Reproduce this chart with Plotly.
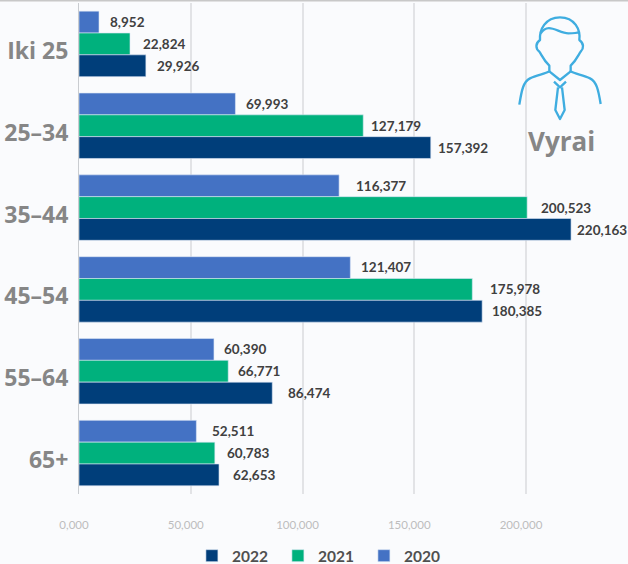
import base64
import plotly.graph_objects as go

categories = ["Iki 25", "25–34", "35–44", "45–54", "55–64", "65+"]
values_2020 = [8952, 69993, 116377, 121407, 60390, 52511]
values_2021 = [22824, 127179, 200523, 175978, 66771, 60783]
values_2022 = [29926, 157392, 220163, 180385, 86474, 62653]
x_ticks = [0, 50000, 100000, 150000, 200000]
x_tick_labels = ["0,000", "50,000", "100,000", "150,000", "200,000"]
gaps_2020 = [11, 11, 17, 11, 10, 16]
gaps_2021 = [13, 8, 14, 18, 10, 12]
gaps_2022 = [11, 7, 6, 10, 16, 14]

FONT = "Lato"
W, H = 628, 564
BG = "#fafbfd"
L, R, T, B = 79, 0, 3, 70

series = [
    ("2020", values_2020, "#4472c4", gaps_2020),
    ("2021", values_2021, "#00b17d", gaps_2021),
    ("2022", values_2022, "#003e7a", gaps_2022),
]

fig = go.Figure()
annos = []
for name, vals, col, gaps in series:
    fig.add_bar(y=categories, x=vals, name=name, orientation="h",
                marker=dict(color=col, line=dict(color="#dbe6f5", width=0.6)))
for k, (name, vals, col, gaps) in enumerate(series):
    for c, v, g in zip(categories, vals, gaps):
        annos.append(dict(x=v, y=c, xref="x", yref="y", text=f"<b>{v:,}</b>", showarrow=False,
                          xanchor="left", xshift=g - 2, yshift=-(k - 1) * 22,
                          font=dict(family=FONT, size=13.5, color="#404040")))
annos.append(dict(x=(561 - L) / (W - L - R), y=1 - (141 - T) / (H - T - B), xref="paper", yref="paper",
                  text="<b>Vyrai</b>", showarrow=False, xanchor="center", yanchor="middle",
                  font=dict(family="Open Sans", size=26, color="#868686")))

svg = ('<svg xmlns="http://www.w3.org/2000/svg" width="148" height="170" viewBox="0 0 444 510">'
       '<g fill="none" stroke="#3fade0" stroke-width="7" stroke-linejoin="round" stroke-linecap="butt">'
       '<path d="M118,314 C125,270 130,245 150,235 C170,225 195,222 208,214 L208,197 C190,180 185,165 178,155 '
       'C166,145 166,130 180,120 C178,90 195,52 240,52 C285,52 302,90 298,120 C312,130 312,145 302,155 '
       'C295,165 290,180 272,197 L272,214 C285,222 310,225 330,235 C350,245 355,270 362,312"/>'
       '<path d="M208,214 L240,240 L272,214"/>'
       '<path d="M182,100 C205,65 235,100 265,100 C280,100 290,100 298,96"/>'
       '<path d="M222,245 L240,262 L258,245"/>'
       '<path d="M234,262 L226,330 L240,357 L254,330 L246,262"/>'
       '</g></svg>')
icon_uri = "data:image/svg+xml;base64," + base64.b64encode(svg.encode()).decode()

fig.update_layout(
    width=W, height=H, barmode="group", bargap=0.2, bargroupgap=0,
    paper_bgcolor=BG, plot_bgcolor=BG,
    margin=dict(l=L, r=R, t=T, b=B, pad=0),
    font=dict(family=FONT),
    legend=dict(orientation="h", traceorder="reversed", x=0.511, xref="container", xanchor="center",
                y=0.014, yref="container", yanchor="middle", entrywidth=41, entrywidthmode="pixels",
                font=dict(family=FONT, size=15.5, color="#505050", weight=700),
                bgcolor="rgba(0,0,0,0)", itemclick=False),
    annotations=annos,
    images=[dict(source=icon_uri, xref="paper", yref="paper",
                 x=(480 - L) / (W - L - R), y=1 + T / (H - T - B),
                 sizex=148 / (W - L - R), sizey=170 / (H - T - B),
                 xanchor="left", yanchor="top", sizing="stretch", layer="above")],
    shapes=[dict(type="line", xref="paper", yref="paper", x0=-L / (W - L - R), x1=1,
                 y0=1 + (T - 0.7) / (H - T - B), y1=1 + (T - 0.7) / (H - T - B),
                 line=dict(color="#c8c8c8", width=1.5))],
)
fig.update_xaxes(range=[0, 245640], tickvals=x_ticks, ticktext=x_tick_labels,
                 showgrid=True, gridcolor="#e2e3e6", gridwidth=1.5, zeroline=False,
                 showline=False, ticks="", ticklabelstandoff=22, ticklabelshift=-5,
                 tickfont=dict(family=FONT, size=11.5, color="#bdbdbd"))
fig.update_yaxes(autorange="reversed", showgrid=False, zeroline=False,
                 showline=True, linecolor="#c9ccd0", linewidth=1, ticks="",
                 ticklabelshift=-7,
                 tickfont=dict(family="Open Sans", size=23, color="#868686", weight=700), ticklabelstandoff=5)

fig.write_html("out.html", post_script="document.body.style.margin='0';",
               config=dict(displayModeBar=False))
